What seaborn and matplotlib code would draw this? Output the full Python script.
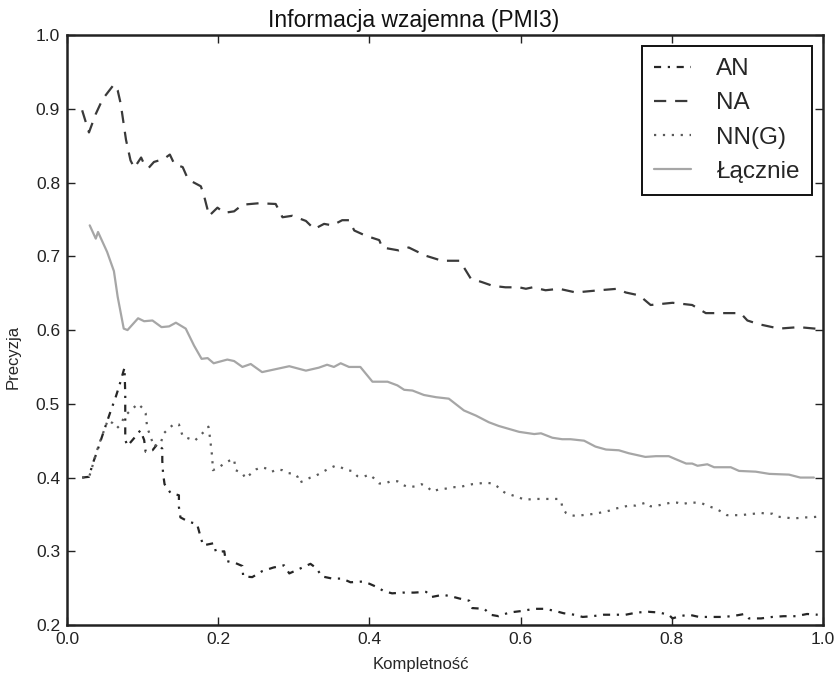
import matplotlib
matplotlib.use("Agg")
import matplotlib.pyplot as plt
from matplotlib import font_manager
from matplotlib.ticker import FormatStrFormatter
import pandas as pd
import seaborn as sns

# --- data -------------------------------------------------------------
an_x = [0.020, 0.029, 0.034, 0.039, 0.049, 0.058, 0.064, 0.069, 0.076, 0.077,
        0.077, 0.077, 0.080, 0.090, 0.097, 0.102, 0.104, 0.113, 0.120, 0.126,
        0.126, 0.127, 0.129, 0.137, 0.148, 0.148, 0.150, 0.161, 0.172, 0.176,
        0.180, 0.194, 0.197, 0.208, 0.210, 0.223, 0.232, 0.233, 0.245, 0.258,
        0.273, 0.287, 0.294, 0.307, 0.322, 0.330, 0.337, 0.351, 0.364, 0.375,
        0.391, 0.400, 0.411, 0.419, 0.430, 0.444, 0.459, 0.475, 0.482, 0.497,
        0.508, 0.519, 0.532, 0.536, 0.552, 0.560, 0.571, 0.585, 0.601, 0.618,
        0.632, 0.646, 0.657, 0.671, 0.682, 0.695, 0.710, 0.726, 0.739, 0.754,
        0.769, 0.783, 0.796, 0.801, 0.810, 0.823, 0.836, 0.852, 0.865, 0.880,
        0.896, 0.902, 0.918, 0.933, 0.948, 0.964, 0.979, 0.993]
an_y = [0.400, 0.401, 0.419, 0.433, 0.464, 0.491, 0.508, 0.524, 0.549, 0.514,
        0.482, 0.451, 0.443, 0.455, 0.464, 0.451, 0.435, 0.437, 0.446, 0.439,
        0.423, 0.406, 0.391, 0.379, 0.376, 0.360, 0.346, 0.340, 0.337, 0.322,
        0.308, 0.311, 0.299, 0.300, 0.287, 0.284, 0.280, 0.266, 0.265, 0.273,
        0.278, 0.281, 0.270, 0.276, 0.283, 0.277, 0.266, 0.263, 0.263, 0.258,
        0.259, 0.256, 0.251, 0.246, 0.243, 0.244, 0.244, 0.245, 0.238, 0.241,
        0.239, 0.236, 0.233, 0.223, 0.222, 0.214, 0.212, 0.217, 0.219, 0.222,
        0.222, 0.219, 0.216, 0.214, 0.211, 0.212, 0.214, 0.214, 0.214, 0.217,
        0.218, 0.217, 0.214, 0.209, 0.212, 0.214, 0.211, 0.211, 0.211, 0.212,
        0.215, 0.209, 0.209, 0.211, 0.212, 0.212, 0.215, 0.214]

na_x = [0.020, 0.029, 0.038, 0.047, 0.062, 0.067, 0.071, 0.078, 0.084, 0.089,
        0.098, 0.102, 0.108, 0.115, 0.128, 0.136, 0.142, 0.153, 0.159, 0.166,
        0.177, 0.181, 0.188, 0.199, 0.208, 0.221, 0.232, 0.254, 0.276, 0.285,
        0.298, 0.316, 0.327, 0.340, 0.351, 0.364, 0.373, 0.380, 0.395, 0.413,
        0.417, 0.439, 0.452, 0.474, 0.496, 0.519, 0.525, 0.534, 0.549, 0.563,
        0.580, 0.598, 0.607, 0.616, 0.633, 0.651, 0.673, 0.704, 0.728, 0.739,
        0.757, 0.772, 0.801, 0.827, 0.845, 0.873, 0.891, 0.900, 0.915, 0.942,
        0.968, 1.000]
na_y = [0.898, 0.868, 0.893, 0.913, 0.933, 0.925, 0.907, 0.858, 0.830, 0.820,
        0.834, 0.825, 0.820, 0.828, 0.832, 0.838, 0.825, 0.821, 0.807, 0.801,
        0.795, 0.783, 0.755, 0.766, 0.759, 0.761, 0.770, 0.772, 0.771, 0.753,
        0.755, 0.748, 0.737, 0.744, 0.742, 0.749, 0.749, 0.735, 0.728, 0.722,
        0.712, 0.708, 0.712, 0.701, 0.694, 0.694, 0.685, 0.670, 0.665, 0.660,
        0.658, 0.658, 0.656, 0.658, 0.654, 0.656, 0.651, 0.654, 0.656, 0.651,
        0.647, 0.634, 0.637, 0.634, 0.623, 0.623, 0.623, 0.613, 0.608, 0.602,
        0.604, 0.601]

nng_x = [0.020, 0.029, 0.034, 0.039, 0.044, 0.049, 0.054, 0.060, 0.066, 0.071,
         0.076, 0.085, 0.094, 0.100, 0.104, 0.106, 0.110, 0.115, 0.120, 0.124,
         0.128, 0.135, 0.142, 0.148, 0.153, 0.161, 0.169, 0.175, 0.181, 0.187,
         0.189, 0.192, 0.193, 0.201, 0.208, 0.215, 0.221, 0.223, 0.232, 0.236,
         0.243, 0.250, 0.257, 0.265, 0.271, 0.278, 0.285, 0.293, 0.301, 0.305,
         0.307, 0.314, 0.322, 0.330, 0.339, 0.346, 0.355, 0.362, 0.370, 0.377,
         0.384, 0.392, 0.400, 0.406, 0.413, 0.421, 0.428, 0.437, 0.444, 0.452,
         0.460, 0.469, 0.477, 0.483, 0.492, 0.501, 0.510, 0.519, 0.527, 0.536,
         0.545, 0.554, 0.563, 0.569, 0.574, 0.580, 0.589, 0.598, 0.605, 0.620,
         0.638, 0.649, 0.654, 0.655, 0.660, 0.666, 0.673, 0.682, 0.690, 0.699,
         0.708, 0.717, 0.726, 0.735, 0.743, 0.752, 0.759, 0.766, 0.772, 0.781,
         0.790, 0.799, 0.807, 0.814, 0.823, 0.832, 0.840, 0.849, 0.858, 0.865,
         0.873, 0.882, 0.891, 0.900, 0.909, 0.918, 0.926, 0.933, 0.940, 0.948,
         0.957, 0.966, 0.975, 0.984, 0.993]
nng_y = [0.400, 0.400, 0.417, 0.435, 0.450, 0.464, 0.478, 0.474, 0.467, 0.472,
         0.483, 0.492, 0.500, 0.494, 0.487, 0.468, 0.457, 0.442, 0.446, 0.447,
         0.460, 0.467, 0.473, 0.472, 0.456, 0.453, 0.450, 0.456, 0.462, 0.469,
         0.455, 0.428, 0.410, 0.414, 0.419, 0.423, 0.425, 0.410, 0.406, 0.399,
         0.405, 0.411, 0.414, 0.412, 0.408, 0.411, 0.410, 0.406, 0.405, 0.401,
         0.393, 0.396, 0.400, 0.403, 0.408, 0.412, 0.416, 0.414, 0.410, 0.409,
         0.402, 0.401, 0.404, 0.399, 0.392, 0.392, 0.395, 0.395, 0.390, 0.387,
         0.388, 0.391, 0.387, 0.381, 0.384, 0.385, 0.387, 0.387, 0.389, 0.391,
         0.392, 0.393, 0.392, 0.388, 0.383, 0.379, 0.376, 0.373, 0.370, 0.371,
         0.371, 0.371, 0.367, 0.360, 0.352, 0.349, 0.348, 0.349, 0.350, 0.351,
         0.353, 0.355, 0.358, 0.360, 0.362, 0.362, 0.364, 0.366, 0.361, 0.362,
         0.364, 0.366, 0.366, 0.364, 0.366, 0.366, 0.365, 0.361, 0.358, 0.354,
         0.349, 0.349, 0.349, 0.350, 0.351, 0.352, 0.351, 0.351, 0.347, 0.346,
         0.345, 0.345, 0.346, 0.346, 0.347]

total_x = [0.030, 0.038, 0.041, 0.053, 0.062, 0.067, 0.075, 0.080, 0.094, 0.102,
           0.113, 0.125, 0.135, 0.144, 0.157, 0.168, 0.178, 0.186, 0.194, 0.212,
           0.221, 0.232, 0.243, 0.258, 0.276, 0.294, 0.316, 0.333, 0.344, 0.353,
           0.362, 0.373, 0.388, 0.404, 0.424, 0.437, 0.446, 0.457, 0.472, 0.488,
           0.505, 0.525, 0.541, 0.558, 0.571, 0.598, 0.618, 0.627, 0.642, 0.655,
           0.666, 0.684, 0.699, 0.713, 0.730, 0.743, 0.765, 0.779, 0.796, 0.805,
           0.819, 0.827, 0.834, 0.847, 0.856, 0.878, 0.889, 0.911, 0.929, 0.955,
           0.970, 0.988]
total_y = [0.742, 0.724, 0.733, 0.706, 0.680, 0.645, 0.602, 0.600, 0.616, 0.612,
           0.613, 0.604, 0.605, 0.610, 0.602, 0.579, 0.561, 0.562, 0.555, 0.560,
           0.558, 0.550, 0.554, 0.543, 0.547, 0.551, 0.545, 0.549, 0.553, 0.550,
           0.555, 0.550, 0.550, 0.530, 0.530, 0.525, 0.519, 0.518, 0.512, 0.509,
           0.507, 0.491, 0.484, 0.475, 0.470, 0.462, 0.459, 0.460, 0.454, 0.452,
           0.452, 0.450, 0.442, 0.438, 0.437, 0.433, 0.428, 0.429, 0.429, 0.425,
           0.419, 0.419, 0.416, 0.418, 0.414, 0.414, 0.409, 0.408, 0.405, 0.404,
           0.400, 0.400]

series_names = ["AN", "NA", "NN(G)", "Łącznie"]
x_ticks = [0.0, 0.2, 0.4, 0.6, 0.8, 1.0]
y_ticks = [0.2, 0.3, 0.4, 0.5, 0.6, 0.7, 0.8, 0.9, 1.0]

# --- long-form table ----------------------------------------------------
frames = []
for name, xs, ys in zip(series_names,
                        [an_x, na_x, nng_x, total_x],
                        [an_y, na_y, nng_y, total_y]):
    frames.append(pd.DataFrame({"Kompletność": xs, "Precyzja": ys, "seria": name}))
df = pd.concat(frames, ignore_index=True)

# --- style --------------------------------------------------------------
sns.set_style("ticks")
available = {f.name for f in font_manager.fontManager.ttflist}
main_font = "Liberation Sans" if "Liberation Sans" in available else "DejaVu Sans"
plt.rcParams["font.family"] = [main_font, "DejaVu Sans"]

palette = {"AN": "#262626", "NA": "#3a3a3a", "NN(G)": "#5a5a5a", "Łącznie": "#a6a6a6"}
dashes = {"AN": (3.2, 3.0, 1.0, 3.0), "NA": (5.5, 4.0), "NN(G)": (1.0, 3.0), "Łącznie": ""}

fig = plt.figure(figsize=(8.39, 6.75), dpi=100)
ax = fig.add_axes([0.0799, 0.074, 0.901, 0.874])

sns.lineplot(data=df, x="Kompletność", y="Precyzja", hue="seria", style="seria",
             hue_order=series_names, style_order=series_names,
             palette=palette, dashes=dashes, estimator=None, sort=False,
             linewidth=1.6, ax=ax)

ax.set_xlim(0.0, 1.0)
ax.set_ylim(0.2, 1.0)
ax.set_xticks(x_ticks)
ax.set_yticks(y_ticks)
ax.xaxis.set_major_formatter(FormatStrFormatter("%.1f"))
ax.yaxis.set_major_formatter(FormatStrFormatter("%.1f"))
ax.tick_params(direction="in", length=6, width=1.0, top=True, right=True,
               labelsize=12.5, pad=5, colors="#222222")
for sp in ax.spines.values():
    sp.set_visible(True)
    sp.set_linewidth(1.8)
    sp.set_color("#222222")

ax.set_title("Informacja wzajemna (PMI3)", fontsize=16.5, pad=6, color="#111111",
             x=0.459)
ax.set_xlabel("Kompletność", fontsize=12, labelpad=2)
ax.xaxis.set_label_coords(0.468, -0.055)
ax.set_ylabel("Precyzja", fontsize=12)
ax.yaxis.set_label_coords(-0.061, 0.454)

leg = ax.legend(loc="upper right", fontsize=17.5, frameon=True, fancybox=False,
                edgecolor="#111111", framealpha=1.0, handlelength=1.5,
                handletextpad=1.05, labelspacing=0.5, borderpad=0.5,
                borderaxespad=0.45)
leg.get_frame().set_linewidth(1.4)
for line in leg.get_lines():
    line.set_linewidth(1.6)

fig.savefig("out.png", dpi=100)
